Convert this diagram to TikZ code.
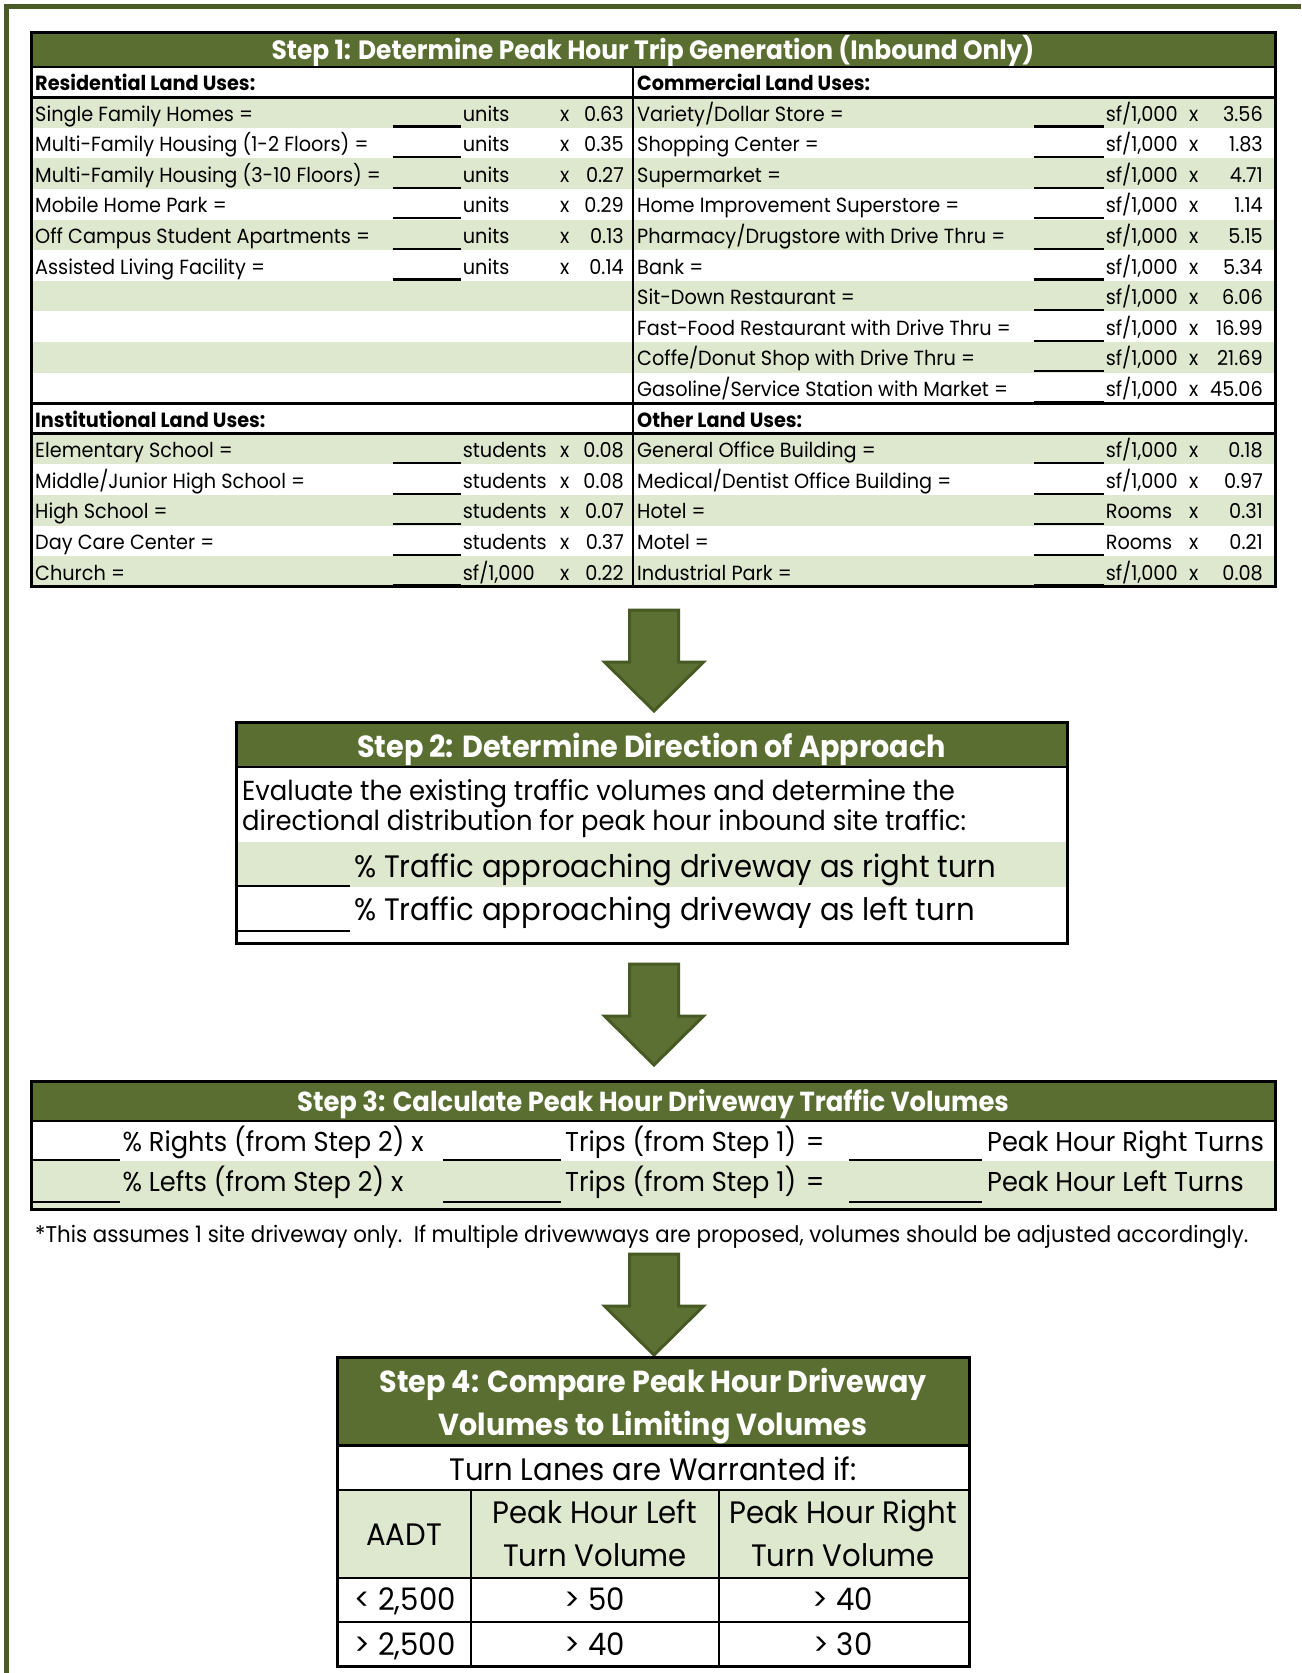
\documentclass[tikz,border=0pt]{standalone}
\usepackage{fontspec}
\setmainfont[FakeStretch=0.94]{Poppins}
\definecolor{hdrgreen}{HTML}{5A6E31}
\definecolor{rowgreen}{HTML}{DEE8CE}
\definecolor{framegreen}{HTML}{4B5B27}
\definecolor{arrowfill}{HTML}{5C7034}
\definecolor{arrowline}{HTML}{475A23}
\newcommand{\fsz}[1]{\fontsize{#1}{#1}\selectfont}
\tikzset{
  hdrtext/.style={text=white,inner sep=0pt,anchor=base},
  bodytext/.style={inner sep=0pt,anchor=base west},
  celltext/.style={inner sep=0pt,anchor=base,font=\fsz{31}},
  outerbox/.style={draw=black,line width=3pt},
  thinrule/.style={draw=black,line width=2pt},
  thickrule/.style={draw=black,line width=3pt},
  blankline/.style={draw=black,line width=2.2pt},
  blockarrow/.style={fill=arrowfill,draw=arrowline,line width=3pt,line join=miter},
  frameline/.style={draw=framegreen,line width=5pt}
}
% row helpers for Step 1
\newcommand{\rowy}[1]{\pgfmathsetmacro{\yb}{66.5+30.6*#1+24}\pgfmathsetmacro{\yu}{66.5+30.6*(#1+1)-1.2}}
\newcommand{\leftrow}[4]{%
  \rowy{#1}%
  \node[bodytext,font=\fsz{20.5}] (L#1) at (35,\yb) {#2};
  \draw[blankline] (392.5,\yu) -- (460.5,\yu);
  \node[bodytext,font=\fsz{20.5}] (LU#1) at (462.7,\yb) {#3};
  \node[bodytext,font=\fsz{20.5}] (LX#1) at (560,\yb) {x};
  \node[bodytext,font=\fsz{20.5},anchor=base east] (LV#1) at (624,\yb) {#4};
}
\newcommand{\rightrow}[4]{%
  \rowy{#1}%
  \node[bodytext,font=\fsz{20.5}] (R#1) at (637,\yb) {#2};
  \draw[blankline] (1034,\yu) -- (1103.5,\yu);
  \node[bodytext,font=\fsz{20.5}] (RU#1) at (1105.6,\yb) {#3};
  \node[bodytext,font=\fsz{20.5}] (RX#1) at (1189,\yb) {x};
  \node[bodytext,font=\fsz{20.5},anchor=base east] (RV#1) at (1263,\yb) {#4};
}
\newcommand{\downarrowat}[2]{%
  \coordinate (#1) at (654,#2);
  \draw[blockarrow] (629.5,#2) -- (678.5,#2) -- (678.5,{#2+52}) -- (703.5,{#2+52}) -- (654,{#2+101}) -- (604.5,{#2+52}) -- (629.5,{#2+52}) -- cycle;
}
\begin{document}
\begin{tikzpicture}[x=1pt,y=-1pt]
\useasboundingbox (0,0) rectangle (1301,1673);
\fill[white] (0,0) rectangle (1301,1673);
% outer frame
\draw[frameline] (6.5,1673) -- (6.5,6.5) -- (1301,6.5);

% ================= STEP 1 =================
\fill[hdrgreen] (31,32) rectangle (1275,66.5);
\foreach \i in {1,3,5,7,9,12,14,16}{
  \fill[rowgreen] (31,{66.5+30.6*\i}) rectangle (1275,{66.5+30.6*(\i+1)});
}
\node[hdrtext,font=\bfseries\fsz{26.5}] (s1title) at (653,59.5) {Step 1: Determine Peak Hour Trip Generation (Inbound Only)};
\rowy{0}
\node[bodytext,font=\bfseries\fsz{20.5}] (reshdr) at (35,\yb) {Residential Land Uses:};
\node[bodytext,font=\bfseries\fsz{20.5}] (comhdr) at (637,\yb) {Commercial Land Uses:};
\rowy{11}
\node[bodytext,font=\bfseries\fsz{20.5}] (insthdr) at (35,\yb) {Institutional Land Uses:};
\node[bodytext,font=\bfseries\fsz{20.5}] (othhdr) at (637,\yb) {Other Land Uses:};

\leftrow{1}{Single Family Homes =}{units}{0.63}
\leftrow{2}{Multi-Family Housing (1-2 Floors) =}{units}{0.35}
\leftrow{3}{Multi-Family Housing (3-10 Floors) =}{units}{0.27}
\leftrow{4}{Mobile Home Park =}{units}{0.29}
\leftrow{5}{Off Campus Student Apartments =}{units}{0.13}
\leftrow{6}{Assisted Living Facility =}{units}{0.14}
\leftrow{12}{Elementary School =}{students}{0.08}
\leftrow{13}{Middle/Junior High School =}{students}{0.08}
\leftrow{14}{High School =}{students}{0.07}
\leftrow{15}{Day Care Center =}{students}{0.37}
\leftrow{16}{Church =}{sf/1,000}{0.22}

\rightrow{1}{Variety/Dollar Store =}{sf/1,000}{3.56}
\rightrow{2}{Shopping Center =}{sf/1,000}{1.83}
\rightrow{3}{Supermarket =}{sf/1,000}{4.71}
\rightrow{4}{Home Improvement Superstore =}{sf/1,000}{1.14}
\rightrow{5}{Pharmacy/Drugstore with Drive Thru =}{sf/1,000}{5.15}
\rightrow{6}{Bank =}{sf/1,000}{5.34}
\rightrow{7}{Sit-Down Restaurant =}{sf/1,000}{6.06}
\rightrow{8}{Fast-Food Restaurant with Drive Thru =}{sf/1,000}{16.99}
\rightrow{9}{Coffe/Donut Shop with Drive Thru =}{sf/1,000}{21.69}
\rightrow{10}{Gasoline/Service Station with Market =}{sf/1,000}{45.06}
\rightrow{12}{General Office Building =}{sf/1,000}{0.18}
\rightrow{13}{Medical/Dentist Office Building =}{sf/1,000}{0.97}
\rightrow{14}{Hotel =}{Rooms}{0.31}
\rightrow{15}{Motel =}{Rooms}{0.21}
\rightrow{16}{Industrial Park =}{sf/1,000}{0.08}

\draw[thinrule] (31,66.5) -- (1275,66.5);
\draw[thickrule] (31,97.1) -- (1275,97.1);
\draw[thickrule] (31,403.1) -- (1275,403.1);
\draw[thickrule] (31,433.7) -- (1275,433.7);
\draw[thinrule] (633,66.5) -- (633,586.7);
\draw[outerbox] (31,32) rectangle (1275,586.7);

% arrow 1
\downarrowat{a1}{610}

% ================= STEP 2 =================
\fill[hdrgreen] (236,722) rectangle (1067,766.5);
\fill[rowgreen] (236,842) rectangle (1067,887);
\node[hdrtext,font=\bfseries\fsz{30.5}] (s2title) at (651.5,757) {Step 2: Determine Direction of Approach};
\node[bodytext,font=\fsz{27.5}] (s2a) at (242,800.5) {Evaluate the existing traffic volumes and determine the};
\node[bodytext,font=\fsz{27.5}] (s2b) at (242,830.5) {directional distribution for peak hour inbound site traffic:};
\draw[blankline] (238,886) -- (350,886);
\draw[blankline] (238,931) -- (350,931);
\node[bodytext,font=\fsz{31}] (s2r) at (354,877) {\% Traffic approaching driveway as right turn};
\node[bodytext,font=\fsz{31}] (s2l) at (354,920.5) {\% Traffic approaching driveway as left turn};
\draw[thinrule] (236,766.5) -- (1067,766.5);
\draw[outerbox] (236,722) rectangle (1067,943.5);

% arrow 2
\downarrowat{a2}{964}

% ================= STEP 3 =================
\fill[hdrgreen] (31,1081) rectangle (1275,1121);
\fill[rowgreen] (31,1160.5) rectangle (1275,1209);
\node[hdrtext,font=\bfseries\fsz{27.5}] (s3title) at (653,1111.7) {Step 3: Calculate Peak Hour Driveway Traffic Volumes};
\draw[blankline] (31,1160) -- (120,1160);
\draw[blankline] (443,1160) -- (561,1160);
\draw[blankline] (849,1160) -- (982,1160);
\draw[blankline] (31,1201.7) -- (120,1201.7);
\draw[blankline] (443,1201.7) -- (561,1201.7);
\draw[blankline] (849,1201.7) -- (982,1201.7);
\node[bodytext,font=\fsz{27.3}] (s3r1) at (122.4,1151.7) {\% Rights (from Step 2) x};
\node[bodytext,font=\fsz{27.3}] (s3r2) at (565,1151.7) {Trips (from Step 1)};
\node[bodytext,font=\fsz{27.3}] (s3r3) at (805.6,1151.7) {=};
\node[bodytext,font=\fsz{27.3}] (s3r4) at (987,1151.7) {Peak Hour Right Turns};
\node[bodytext,font=\fsz{27.3}] (s3l1) at (122.4,1191.7) {\% Lefts (from Step 2) x};
\node[bodytext,font=\fsz{27.3}] (s3l2) at (565,1191.7) {Trips (from Step 1)};
\node[bodytext,font=\fsz{27.3}] (s3l3) at (805.6,1191.7) {=};
\node[bodytext,font=\fsz{27.3}] (s3l4) at (987,1191.7) {Peak Hour Left Turns};
\draw[thinrule] (31,1121) -- (1275,1121);
\draw[outerbox] (31,1081) rectangle (1275,1209.5);

\node[bodytext,font=\fsz{22.7}] (note) at (35,1242) {*This assumes 1 site driveway only.\ \ If multiple drivewways are proposed, volumes should be adjusted accordingly.};

% arrow 3
\downarrowat{a3}{1254}

% ================= STEP 4 =================
\fill[hdrgreen] (337,1357) rectangle (969,1445);
\fill[rowgreen] (337,1490) rectangle (969,1578);
\node[hdrtext,font=\bfseries\fsz{30.4}] (s4t1) at (653,1392) {Step 4: Compare Peak Hour Driveway};
\node[hdrtext,font=\bfseries\fsz{30.4}] (s4t2) at (653,1435.5) {Volumes to Limiting Volumes};
\node[celltext] (warr) at (653,1480) {Turn Lanes are Warranted if:};
\node[celltext] (aadt) at (404,1545) {AADT};
\node[celltext] (lt1) at (595,1523) {Peak Hour Left};
\node[celltext] (lt2) at (595,1566.7) {Turn Volume};
\node[celltext] (rt1) at (843,1523) {Peak Hour Right};
\node[celltext] (rt2) at (843,1566.7) {Turn Volume};
\node[celltext] (v11) at (405,1610) {< 2,500};
\node[celltext] (v12) at (595,1610) {> 50};
\node[celltext] (v13) at (843,1610) {> 40};
\node[celltext] (v21) at (405,1655) {> 2,500};
\node[celltext] (v22) at (595,1655) {> 40};
\node[celltext] (v23) at (843,1655) {> 30};
\draw[thickrule] (337,1445) -- (969,1445);
\draw[thinrule] (337,1490) -- (969,1490);
\draw[thinrule] (337,1578) -- (969,1578);
\draw[thinrule] (337,1622) -- (969,1622);
\draw[thinrule] (471,1490) -- (471,1666);
\draw[thinrule] (719,1490) -- (719,1666);
\draw[outerbox] (337,1357) rectangle (969,1666);
\end{tikzpicture}
\end{document}
